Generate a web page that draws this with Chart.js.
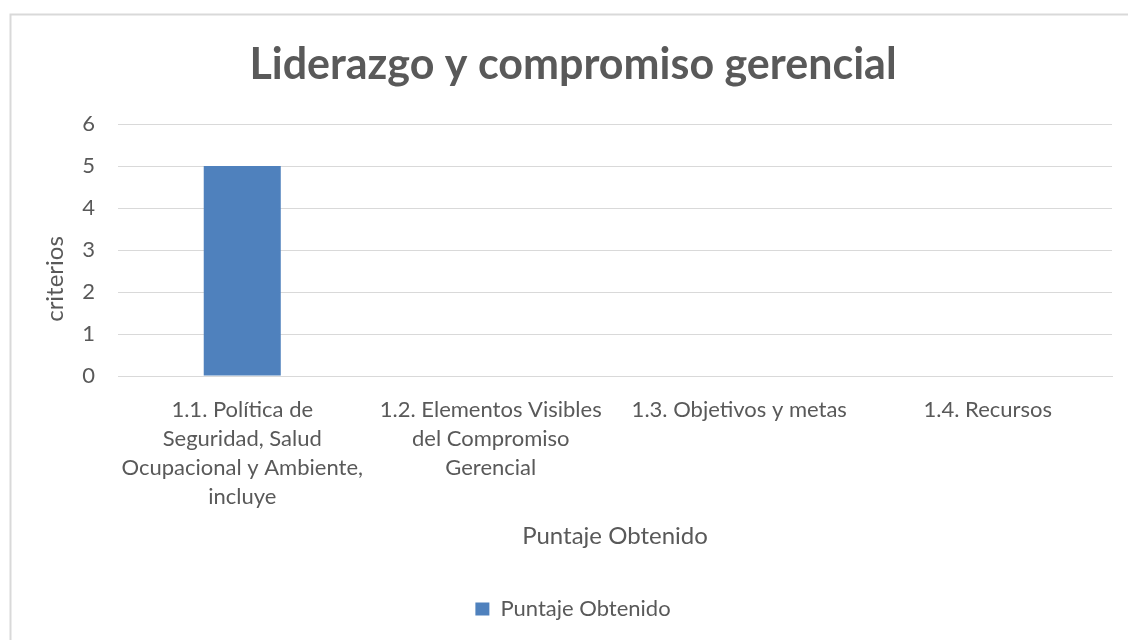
<!DOCTYPE html>
<html lang="es">
<head>
    <meta charset="utf-8">
    <script src="https://cdn.jsdelivr.net/npm/chart.js"></script>
    <style>
        html, body { margin: 0; padding: 0; background: #fff; }
        #wrap { width: 1128px; height: 640px; }
    </style>
</head>
<body>
    <div id="wrap"><canvas id="liderazgoChart" width="1128" height="640"></canvas></div>

    <script>
        // Datos del gráfico
        const categorias = [
            ["1.1. Política de", "Seguridad, Salud", "Ocupacional y Ambiente,", "incluye"],
            ["1.2. Elementos Visibles", "del Compromiso", "Gerencial"],
            ["1.3. Objetivos y metas"],
            ["1.4. Recursos"]
        ];
        const puntajeObtenido = [5, 0, 0, 0];
        const yTicks = [0, 1, 2, 3, 4, 5, 6];
        const yAxisTitle = 'criterios';

        const textColor = '#595959';
        const gridColor = '#d9d9d9';
        const fontFamily = "Lato, 'Open Sans', sans-serif";

        // marco del área del gráfico (estilo Excel)
        const chartFrame = {
            id: 'chartFrame',
            beforeDraw(chart) {
                const c = chart.ctx;
                c.save();
                c.fillStyle = '#fff';
                c.fillRect(0, 0, chart.width, chart.height);
                c.strokeStyle = gridColor;
                c.lineWidth = 2;
                c.strokeRect(10.5, 14.5, 1300, 800);
                c.restore();
            }
        };

        // título del eje Y: Excel lo centra un poco más abajo que Chart.js
        const yTitle = {
            id: 'yTitle',
            afterDraw(chart) {
                const s = chart.scales.y;
                const c = chart.ctx;
                c.save();
                c.translate(s.left + 21, (s.top + s.bottom) / 2 + 29);
                c.rotate(-Math.PI / 2);
                c.fillStyle = textColor;
                c.font = '24px ' + fontFamily;
                c.textAlign = 'center';
                c.textBaseline = 'middle';
                c.fillText(yAxisTitle, 0, 0);
                c.restore();
            }
        };

        const ctx = document.getElementById('liderazgoChart').getContext('2d');

        new Chart(ctx, {
            type: 'bar',
            data: {
                labels: categorias,
                datasets: [{
                    label: 'Puntaje Obtenido',
                    data: puntajeObtenido,
                    backgroundColor: '#4f81bd',
                    borderWidth: 0,
                    categoryPercentage: 0.62,
                    barPercentage: 0.5
                }]
            },
            options: {
                responsive: false,
                animation: false,
                layout: { padding: { top: 0, left: 34, right: 16, bottom: 10 } },
                scales: {
                    y: {
                        min: 0,
                        max: 6,
                        afterFit: (scale) => { scale.width = 84; },
                        afterBuildTicks: (scale) => { scale.ticks = yTicks.map(v => ({ value: v })); },
                        grid: { color: gridColor, lineWidth: 1, drawTicks: false },
                        border: { display: false },
                        ticks: {
                            padding: 23,
                            color: textColor,
                            font: { family: fontFamily, size: 22 }
                        }
                    },
                    x: {
                        afterFit: (scale) => { scale.height = 212; },
                        grid: { display: false, drawTicks: false },
                        border: { display: true, color: gridColor, width: 1 },
                        ticks: {
                            padding: 19,
                            maxRotation: 0,
                            autoSkip: false,
                            color: textColor,
                            font: { family: fontFamily, size: 22, lineHeight: 1.32 }
                        },
                        title: {
                            display: true,
                            text: 'Puntaje Obtenido',
                            color: textColor,
                            padding: { top: 0, bottom: 37 },
                            font: { family: fontFamily, size: 24 }
                        }
                    }
                },
                plugins: {
                    title: {
                        display: true,
                        text: 'Liderazgo y compromiso gerencial',
                        color: textColor,
                        padding: { top: 39, bottom: 33.4 },
                        font: { family: fontFamily, size: 43, weight: 'bold', lineHeight: 1.2 }
                    },
                    legend: {
                        position: 'bottom',
                        labels: {
                            boxWidth: 14,
                            boxHeight: 13,
                            padding: 10,
                            color: textColor,
                            font: { family: fontFamily, size: 22 }
                        }
                    },
                    tooltip: { enabled: false }
                }
            },
            plugins: [chartFrame, yTitle]
        });
    </script>
</body>
</html>
